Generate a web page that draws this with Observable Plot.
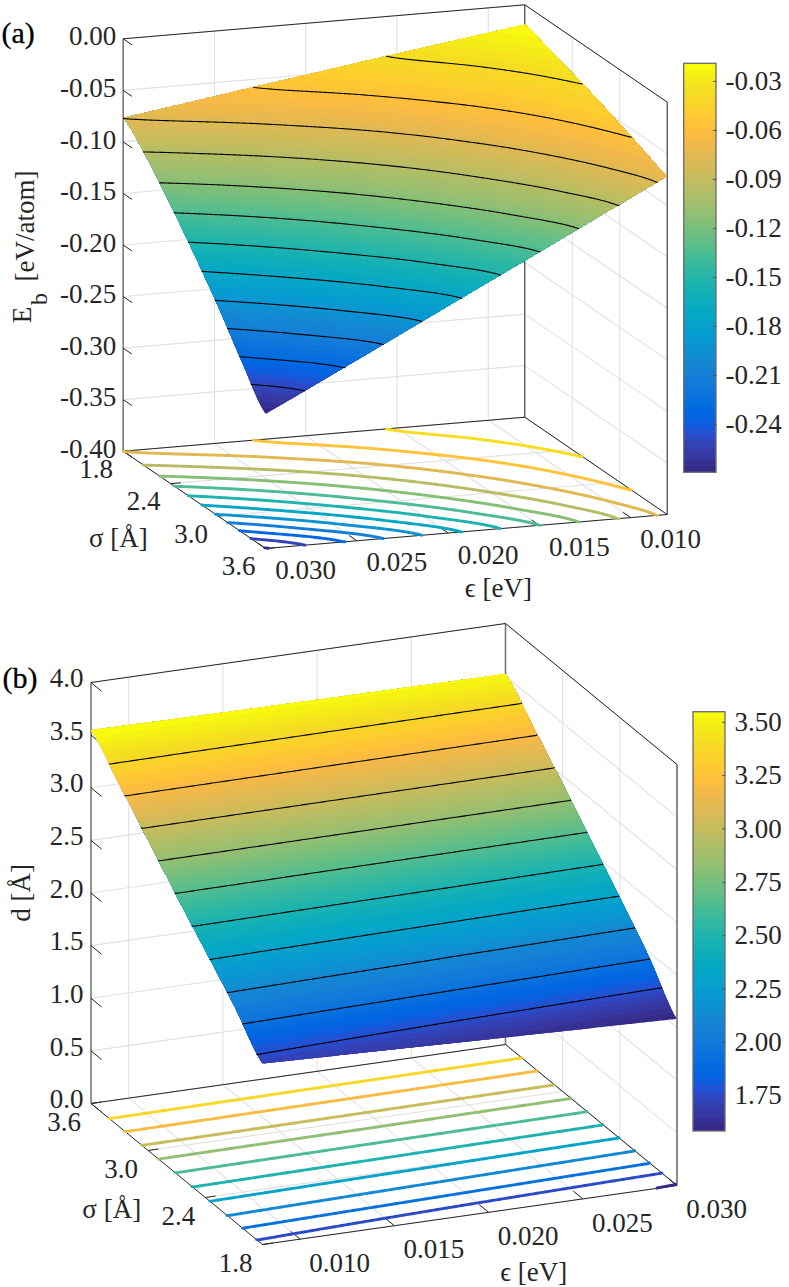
<!DOCTYPE html>
<html>
<head>
<meta charset="utf-8">
<style>html,body{margin:0;padding:0;background:#fff}svg{display:block}svg text{font-family:"Liberation Serif","DejaVu Serif",serif !important}</style>
<script src="https://cdn.jsdelivr.net/npm/d3@7"></script>
<script src="https://cdn.jsdelivr.net/npm/@observablehq/plot@0.6"></script>
</head>
<body>
<script>
// ---- values ----
const sigmaGrid = [1.8, 2.1, 2.4, 2.7, 3.0, 3.3, 3.6];
const epsGridA = [0.008, 0.015, 0.022, 0.030];
const bindingAt008 = [-0.0192, -0.0267, -0.0346, -0.0433, -0.0525, -0.0625, -0.0719];
const bindingAt015 = [-0.0369, -0.0485, -0.0632, -0.0793, -0.0968, -0.1160, -0.1348];
const bindingAt022 = [-0.0553, -0.0722, -0.0940, -0.1178, -0.1432, -0.1714, -0.1977];
const bindingAt030 = [-0.0767, -0.1000, -0.1298, -0.1622, -0.1967, -0.2345, -0.2696];
const bindingLevels = [-0.0385, -0.0577, -0.0770, -0.0962, -0.1155, -0.1348, -0.1540, -0.1733, -0.1926, -0.2118, -0.2311, -0.2503];
const bindingFloorLevels = [...bindingLevels, -0.2685];

const epsGridB = [0.008, 0.019, 0.030];
const distAt008 = [1.72, 2.05, 2.345, 2.64, 2.945, 3.25, 3.547];
const distAt019 = [1.65, 2.005, 2.318, 2.625, 2.935, 3.238, 3.53];
const distAt030 = [1.583, 1.96, 2.29, 2.61, 2.925, 3.227, 3.52];
const distLevels = [1.762, 1.9405, 2.119, 2.2975, 2.476, 2.6545, 2.833, 3.0115, 3.19, 3.3685];
const distFloorLevels = [1.592, ...distLevels];

const epsTicks = [0.010, 0.015, 0.020, 0.025, 0.030];
const epsTickLabels = ["0.010", "0.015", "0.020", "0.025", "0.030"];
const sigmaTicks = [1.8, 2.4, 3.0, 3.6];
const sigmaTickLabels = ["1.8", "2.4", "3.0", "3.6"];
const ebTicks = [0, -0.05, -0.10, -0.15, -0.20, -0.25, -0.30, -0.35, -0.40];
const ebTickLabels = ["0.00", "-0.05", "-0.10", "-0.15", "-0.20", "-0.25", "-0.30", "-0.35", "-0.40"];
const dTicks = [0, 0.5, 1, 1.5, 2, 2.5, 3, 3.5, 4];
const dTickLabels = ["0.0", "0.5", "1.0", "1.5", "2.0", "2.5", "3.0", "3.5", "4.0"];
const cbTicksA = [-0.03, -0.06, -0.09, -0.12, -0.15, -0.18, -0.21, -0.24];
const cbLabelsA = ["-0.03", "-0.06", "-0.09", "-0.12", "-0.15", "-0.18", "-0.21", "-0.24"];
const cbTicksB = [3.5, 3.25, 3, 2.75, 2.5, 2.25, 2, 1.75];
const cbLabelsB = ["3.50", "3.25", "3.00", "2.75", "2.50", "2.25", "2.00", "1.75"];

// MATLAB parula, 64 steps
const parula = [
[.2081,.1663,.5292],[.2116,.1898,.5777],[.2123,.2138,.6270],[.2081,.2386,.6771],[.1959,.2645,.7279],[.1707,.2919,.7792],[.1253,.3242,.8303],[.0591,.3598,.8683],
[.0117,.3875,.8820],[.0060,.4086,.8828],[.0165,.4266,.8786],[.0329,.4430,.8720],[.0498,.4586,.8641],[.0629,.4737,.8554],[.0723,.4887,.8467],[.0779,.5040,.8384],
[.0793,.5200,.8312],[.0749,.5375,.8263],[.0641,.5570,.8240],[.0488,.5772,.8228],[.0343,.5966,.8199],[.0265,.6137,.8135],[.0239,.6287,.8038],[.0231,.6418,.7913],
[.0228,.6535,.7768],[.0267,.6642,.7607],[.0384,.6743,.7436],[.0590,.6838,.7254],[.0843,.6928,.7062],[.1133,.7015,.6859],[.1453,.7098,.6646],[.1801,.7177,.6424],
[.2178,.7250,.6193],[.2586,.7317,.5954],[.3022,.7376,.5712],[.3482,.7424,.5473],[.3953,.7459,.5244],[.4420,.7481,.5033],[.4871,.7491,.4840],[.5300,.7491,.4661],
[.5709,.7485,.4494],[.6099,.7473,.4337],[.6473,.7456,.4188],[.6834,.7435,.4044],[.7184,.7411,.3905],[.7525,.7384,.3768],[.7858,.7356,.3633],[.8185,.7327,.3498],
[.8507,.7299,.3360],[.8824,.7274,.3217],[.9139,.7258,.3063],[.9450,.7261,.2886],[.9739,.7314,.2666],[.9938,.7455,.2403],[.9990,.7653,.2164],[.9955,.7861,.1967],
[.9880,.8066,.1794],[.9789,.8271,.1633],[.9697,.8481,.1475],[.9626,.8705,.1309],[.9589,.8949,.1132],[.9598,.9218,.0948],[.9661,.9514,.0755],[.9763,.9831,.0538]
].map(c => d3.rgb(c[0]*255, c[1]*255, c[2]*255).formatHex());

// ---- panel set-up: an orthographic view of the data box ----
const serif = "Liberation Serif, DejaVu Serif, serif";
const ink = "#262626";
const panelA = {
  top: 0, height: 610, tag: "(a)", tagDx: 1, tagDy: 33,
  e: [0.030, 0.008], s: [1.8, 3.6], z: [-0.40, 0],
  O: [122.7, 450.7], ex: [401.6, -34], sx: [142.4, 97.3], zv: [0, -412.4],
  epsGrid: epsGridA, cols: [bindingAt008, bindingAt015, bindingAt022, bindingAt030],
  levels: bindingLevels, floorLevels: bindingFloorLevels,
  lo: -0.2696, hi: -0.0192,
  zTicks: ebTicks, zLabels: ebTickLabels,
  zLabelDx: -7, zLabelDy: -2, epsOff: [40, 22], sigOff: [-27, 18],
  cbx: [683.7, 716], cby: [63.3, 472.3], cbTicks: cbTicksA, cbLabels: cbLabelsA, cbLabelX: 725,
  epsTitle: [32, 57], sigTitle: [-76, 39],
  zTitle: [{text: "[eV/atom]", dx: -98, dy: -19}, {text: "E", dx: -100.7, dy: 70}, {text: "b", dx: -84, dy: 54, size: 24}]
};
const panelB = {
  top: 610, height: 677, tag: "(b)", tagDx: 2, tagDy: 68,
  e: [0.008, 0.030], s: [3.6, 1.8], z: [0, 4],
  O: [90.5, 1103], ex: [414.5, -59], sx: [171.5, 141], zv: [0, -421],
  epsGrid: epsGridB, cols: [distAt008, distAt019, distAt030],
  levels: distLevels, floorLevels: distFloorLevels,
  lo: 1.583, hi: 3.547,
  zTicks: dTicks, zLabels: dTickLabels,
  zLabelDx: -7.5, zLabelDy: -4, epsOff: [39.5, 24], sigOff: [-27, 19],
  cbx: [693, 725], cby: [711.7, 1131], cbTicks: cbTicksB, cbLabels: cbLabelsB, cbLabelX: 734,
  epsTitle: [64, 57.5], sigTitle: [-65, 35.5],
  zTitle: [{text: "d [Å]", dx: -70, dy: 0}]
};

// smooth reading of a column between the sampled rows
function spline(a, t) {
  const n = a.length, i = Math.max(0, Math.min(Math.floor(t), n - 2)), f = t - i;
  const p0 = a[Math.max(i - 1, 0)], p1 = a[i], p2 = a[i + 1], p3 = a[Math.min(i + 2, n - 1)];
  return 0.5 * (2 * p1 + (p2 - p0) * f + (2 * p0 - 5 * p1 + 4 * p2 - p3) * f * f + (3 * p1 - p0 - 3 * p2 + p3) * f * f * f);
}

function drawPanel(P) {
  const {e, s, z, O, ex, sx, zv} = P;
  const uOf = v => (v - e[0]) / (e[1] - e[0]);
  const vOf = v => (v - s[0]) / (s[1] - s[0]);
  const wOf = v => (v - z[0]) / (z[1] - z[0]);
  const at = (u, v, w) => ({
    x: O[0] + u * ex[0] + v * sx[0] + w * zv[0],
    y: O[1] + u * ex[1] + v * sx[1] + w * zv[1]
  });
  const seg = (a, b) => ({x1: a.x, y1: a.y, x2: b.x, y2: b.y});
  const field = (u, v) => {
    const ee = e[0] + (e[1] - e[0]) * u, ss = s[0] + (s[1] - s[0]) * v;
    const t = (ss - sigmaGrid[0]) / (sigmaGrid[1] - sigmaGrid[0]);
    const g = P.epsGrid;
    let k = 0;
    while (k < g.length - 2 && ee > g[k + 1]) k++;
    const a = spline(P.cols[k], t), b = spline(P.cols[k + 1], t);
    return a + (b - a) * (ee - g[k]) / (g[k + 1] - g[k]);
  };

  // ---- field sampled finely for the shaded surface and iso-lines ----
  const nx = 220, ny = 220;
  const values = new Float64Array(nx * ny);
  for (let j = 0; j < ny; j++) for (let i = 0; i < nx; i++) values[j * nx + i] = field((i + 0.5) / nx, (j + 0.5) / ny);
  const contourer = d3.contours().size([nx, ny]).smooth(true);
  const N = parula.length, step = (P.hi - P.lo) / N;
  const thresholds = d3.range(1, N).map(i => P.lo + i * step);

  const surface = [];
  for (let i = 0; i < N; i++) {
    const t = i === 0 ? P.lo - 1 : P.lo + i * step;
    contourer.contour(values, t).coordinates.forEach((poly, pi) => {
      poly[0].forEach(([gx, gy]) => {
        const u = gx / nx, v = gy / ny;
        surface.push({...at(u, v, wOf(field(u, v))), band: i + "-" + pi, val: P.lo + (i + 0.5) * step});
      });
    });
  }

  const isolines = (lv) => {
    const out = [];
    lv.forEach((level, li) => {
      contourer.contour(values, level).coordinates.forEach(poly => poly.forEach(ring => {
        const pts = ring.slice(0, -1);
        const edge = ([x, y]) => x <= 0 || x >= nx || y <= 0 || y >= ny;
        const start = pts.findIndex(edge);
        if (start < 0) return;
        const rot = pts.slice(start).concat(pts.slice(0, start + 1));
        let cur = null, id = 0;
        for (let k = 0; k < rot.length; k++) {
          const isE = edge(rot[k]);
          if (!isE) {
            if (!cur) cur = [rot[k - 1]];
            cur.push(rot[k]);
          } else if (cur) {
            cur.push(rot[k]);
            out.push({level, id: li + "-" + (id++), pts: cur});
            cur = null;
          }
        }
      }));
    });
    return out;
  };
  const floorRows = isolines(P.floorLevels).flatMap(l => l.pts.map(([gx, gy]) => ({...at(gx / nx, gy / ny, 0), id: l.id, val: l.level})));
  const blackRows = isolines(P.levels).flatMap(l => l.pts.map(([gx, gy]) => {
    const u = gx / nx, v = gy / ny;
    return {...at(u, v, wOf(l.level)), id: l.id};
  }));

  // ---- walls, floor, ticks ----
  const grid = [], box = [], heavy = [], ticks = [];
  const uTicks = epsTicks.map(uOf), vTicks = sigmaTicks.map(vOf), wTicks = P.zTicks.map(wOf);
  uTicks.forEach(u => {
    grid.push(seg(at(u, 0, 0), at(u, 0, 1)), seg(at(u, 0, 0), at(u, 1, 0)));
    ticks.push(seg(at(u, 1, 0), at(u, 0.945, 0)));
  });
  vTicks.forEach(v => {
    grid.push(seg(at(0, v, 0), at(1, v, 0)), seg(at(1, v, 0), at(1, v, 1)));
    ticks.push(seg(at(0, v, 0), at(0.025, v, 0)));
  });
  wTicks.forEach(w => {
    grid.push(seg(at(0, 0, w), at(1, 0, w)), seg(at(1, 0, w), at(1, 1, w)));
    ticks.push(seg(at(0, 0, w), at(0, 0.062, w)));
  });
  box.push(
    seg(at(0, 0, 1), at(1, 0, 1)), seg(at(1, 0, 1), at(1, 1, 1)), seg(at(1, 1, 0), at(1, 1, 1)),
    seg(at(0, 0, 0), at(1, 0, 0)), seg(at(1, 0, 0), at(1, 1, 0)), seg(at(0, 0, 0), at(0, 1, 0)), seg(at(0, 1, 0), at(1, 1, 0))
  );
  const leftV = seg(at(0, 0, 0), at(0, 0, 1)), midV = seg(at(1, 0, 0), at(1, 0, 1));
  if (P === panelA) { heavy.push(leftV); box.push(midV); } else { heavy.push(midV); box.push(leftV); }

  // ---- labels ----
  const common = {fontFamily: serif, fontSize: 27, fill: ink};
  const epsLabels = epsTicks.map((v, i) => ({...at(uOf(v), 1, 0), text: epsTickLabels[i]}));
  const sigLabels = sigmaTicks.map((v, i) => ({...at(0, vOf(v), 0), text: sigmaTickLabels[i]}));
  const zLabels = P.zTicks.map((v, i) => ({...at(0, 0, wOf(v)), text: P.zLabels[i]}));
  const midZ = at(0, 0, 0.5), midEps = at(0.5, 1, 0), midSig = at(0, 0.5, 0);

  // ---- colour bar ----
  const cbY = v => P.cby[0] + (P.hi - v) / (P.hi - P.lo) * (P.cby[1] - P.cby[0]);
  const bands = d3.range(N).map(i => ({
    x1: P.cbx[0], x2: P.cbx[1], y1: cbY(P.lo + (i + 1) * step), y2: cbY(P.lo + i * step), val: P.lo + (i + 0.5) * step
  }));
  const frame = [{x1: P.cbx[0], x2: P.cbx[1], y1: P.cby[0], y2: P.cby[1]}];
  const cbTickRows = P.cbTicks.map((v, i) => ({x1: P.cbx[1] - 3.5, x2: P.cbx[1], y1: cbY(v), y2: cbY(v), x: P.cbLabelX, y: cbY(v), text: P.cbLabels[i]}));

  const linkXY = {x1: "x1", y1: "y1", x2: "x2", y2: "y2"};
  const chart = Plot.plot({
    width: 789, height: P.height, margin: 0,
    style: {background: "#fff", fontFamily: serif},
    x: {domain: [0, 789], range: [0, 789], axis: null},
    y: {domain: [P.top, P.top + P.height], range: [0, P.height], axis: null},
    color: {type: "threshold", domain: thresholds, range: parula},
    marks: [
      Plot.link(grid, {...linkXY, stroke: "#e1e1e1", strokeWidth: 1.1}),
      Plot.link(heavy, {...linkXY, stroke: "#7a7a7a", strokeWidth: 1.6}),
      Plot.link(box, {...linkXY, stroke: ink, strokeWidth: 1}),
      Plot.link(ticks, {...linkXY, stroke: ink, strokeWidth: 1}),
      Plot.line(floorRows, {x: "x", y: "y", z: "id", stroke: "val", strokeWidth: 2.9, strokeLinejoin: "round"}),
      Plot.line(surface, {x: "x", y: "y", z: "band", fill: "val", stroke: "none"}),
      Plot.line(blackRows, {x: "x", y: "y", z: "id", stroke: "#000", strokeWidth: 1.1}),
      Plot.text(zLabels, {...common, x: "x", y: "y", text: "text", textAnchor: "end", dx: P.zLabelDx, dy: P.zLabelDy}),
      Plot.text(epsLabels, {...common, x: "x", y: "y", text: "text", dx: P.epsOff[0], dy: P.epsOff[1]}),
      Plot.text(sigLabels, {...common, x: "x", y: "y", text: "text", dx: P.sigOff[0], dy: P.sigOff[1]}),
      Plot.text([midEps], {...common, x: "x", y: "y", text: () => "\u03f5 [eV]", dx: P.epsTitle[0], dy: P.epsTitle[1]}),
      Plot.text([midSig], {...common, x: "x", y: "y", text: () => "\u03c3 [Å]", dx: P.sigTitle[0], dy: P.sigTitle[1]}),
      ...P.zTitle.map(t => Plot.text([midZ], {...common, fontSize: t.size || 27, x: "x", y: "y", text: () => t.text, rotate: -90, dx: t.dx, dy: t.dy})),
      Plot.text([P.tag], {frameAnchor: "top-left", fontFamily: serif, fontSize: 30, fill: "#000", stroke: "#000", strokeWidth: 0.3, textAnchor: "start", lineAnchor: "middle", dx: P.tagDx, dy: P.tagDy}),
      Plot.rect(bands, {x1: "x1", x2: "x2", y1: "y1", y2: "y2", fill: "val", shapeRendering: "crispEdges"}),
      Plot.rect(frame, {x1: "x1", x2: "x2", y1: "y1", y2: "y2", fill: "none", stroke: "#6a6a6a", strokeWidth: 1.3}),
      Plot.link(cbTickRows, {...linkXY, stroke: "#555", strokeWidth: 1}),
      Plot.text(cbTickRows, {...common, x: "x", y: "y", text: "text", textAnchor: "start"})
    ]
  });
  document.body.append(chart);
}
drawPanel(panelA);
drawPanel(panelB);
</script>
</body>
</html>
